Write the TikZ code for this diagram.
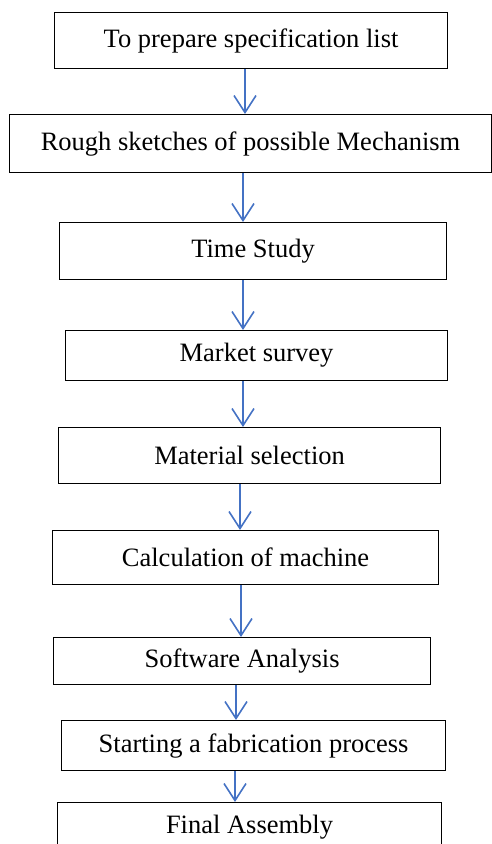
\documentclass[tikz,border=0pt]{standalone}
\usepackage{fontspec}
\setmainfont{Liberation Serif}
\usetikzlibrary{arrows.meta}
\definecolor{flowblue}{RGB}{68,114,196}

\begin{document}
\begin{tikzpicture}[x=1pt, y=-1pt, every node/.style={font=\fontsize{26.5}{30}\selectfont}, >={Straight Barb[length=17pt, width=22pt]},
	stepbox/.style={draw, line width=1.1pt, inner sep=0pt, anchor=north west}]
	\useasboundingbox (0,0) rectangle (492,844);
	\clip (0,0) rectangle (492,844);
	\foreach \n/\x/\y/\w/\h/\t in {1/54/12/393/56/To prepare specification list,
		2/9/114/482/58/Rough sketches of possible Mechanism,
		3/59/222/387/57/Time Study,
		4/65/330/382/50/Market survey,
		5/58/427/382/56/Material selection,
		6/52/530/386/54/Calculation of machine,
		7/53/637/377/47/Software Analysis,
		8/61/720/384/50/Starting a fabrication process,
		9/57/802/384/50/Final Assembly} {
		\node[stepbox, minimum width=\w, minimum height=\h] (b\n) at (\x,\y) {\t};
	}
	\foreach \a/\b/\x in {1/2/245, 2/3/243, 3/4/243, 4/5/243, 5/6/240, 6/7/241, 7/8/236, 8/9/235} {
		\draw[->, flowblue, line width=1.6pt] (b\a.south -| \x,0) -- (b\b.north -| \x,0);
	}
\end{tikzpicture}
\end{document}
